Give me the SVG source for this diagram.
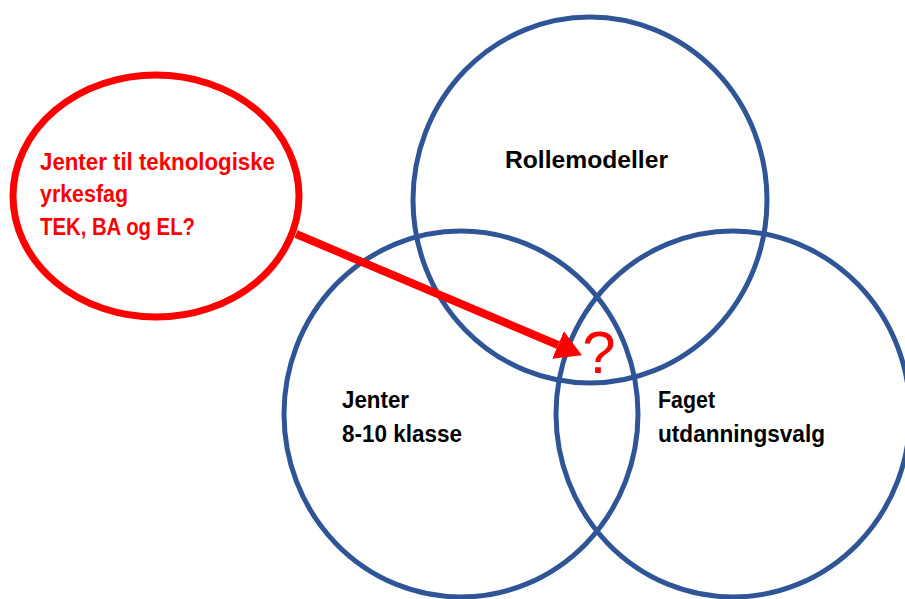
<svg xmlns="http://www.w3.org/2000/svg" width="905" height="599" viewBox="0 0 905 599">
  <style>
    .ring { fill: none; stroke: #2F5597; stroke-width: 5; }
    .label { font-family: "Liberation Sans", Arial, sans-serif; font-weight: bold; font-size: 23px; fill: #000000; }
    .red-label { font-family: "Liberation Sans", Arial, sans-serif; font-weight: bold; font-size: 23px; fill: #FF0000; }
    .question { font-family: "Liberation Sans", Arial, sans-serif; font-size: 60px; fill: #FF0000; }
    .link { stroke: #FF0000; stroke-width: 8; fill: none; }
  </style>
  <defs>
    <marker id="arrowhead" markerUnits="userSpaceOnUse" markerWidth="26" markerHeight="30" refX="0" refY="15" orient="auto">
      <path d="M0,0 L26,15 L0,30 z" fill="#FF0000"/>
    </marker>
  </defs>
  <rect width="905" height="599" fill="#FFFFFF"/>

  <g id="rollemodeller">
    <ellipse class="ring" cx="590" cy="200" rx="177" ry="183"/>
    <text class="label" x="505" y="168" textLength="163" lengthAdjust="spacingAndGlyphs">Rollemodeller</text>
  </g>

  <g id="jenter">
    <ellipse class="ring" cx="461" cy="414" rx="177" ry="183"/>
    <text class="label" x="342" y="408" textLength="67" lengthAdjust="spacingAndGlyphs">Jenter</text>
    <text class="label" x="342" y="442" textLength="120" lengthAdjust="spacingAndGlyphs">8-10 klasse</text>
  </g>

  <g id="faget">
    <ellipse class="ring" cx="733" cy="414" rx="177" ry="183"/>
    <text class="label" x="658" y="408" textLength="57" lengthAdjust="spacingAndGlyphs">Faget</text>
    <text class="label" x="658" y="442" textLength="167" lengthAdjust="spacingAndGlyphs">utdanningsvalg</text>
  </g>

  <g id="sporsmal">
    <ellipse cx="156" cy="196" rx="143" ry="121" fill="none" stroke="#FF0000" stroke-width="7"/>
    <text class="red-label" x="40" y="170" textLength="235" lengthAdjust="spacingAndGlyphs">Jenter til teknologiske</text>
    <text class="red-label" x="40" y="202" textLength="88" lengthAdjust="spacingAndGlyphs">yrkesfag</text>
    <text class="red-label" x="40" y="235" textLength="155" lengthAdjust="spacingAndGlyphs">TEK, BA og EL?</text>
  </g>

  <g id="connectors">
    <line class="link" x1="296" y1="234" x2="558" y2="345" marker-end="url(#arrowhead)"/>
  </g>

  <g id="overlap">
    <text class="question" x="599" y="373" text-anchor="middle">?</text>
  </g>
</svg>
